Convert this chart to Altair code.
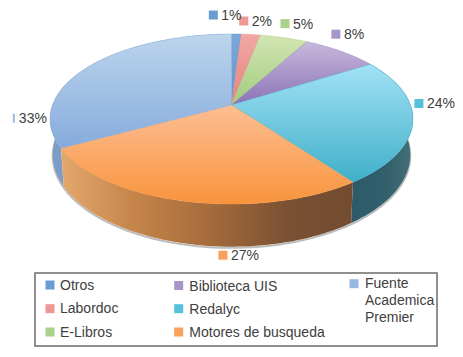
import altair as alt
import pandas as pd

CATEGORIES = ["Otros", "Labordoc", "E-Libros", "Biblioteca UIS", "Redalyc", "Motores de busqueda", "Fuente Academica Premier"]
SHARES = [1, 2, 5, 8, 24, 27, 33]
LEGEND_COLORS = ["#6a9bd1", "#ee9794", "#a9d28a", "#a797c9", "#55c1da", "#f9a05c", "#98b8e2"]

# layout / style (separate from the data)
TOP_GRAD = [("#7aa9d8", "#6296cf"), ("#f2a8a6", "#e5827f"), ("#d3e5b2", "#a0cc7e"), ("#c8b9dc", "#8a73b6"),
            ("#a2e2f5", "#3fafc9"), ("#fdbe94", "#f8943c"), ("#bcd5ec", "#86abdc")]
LABEL_DX = [-15, 1, 9, 3, 14, 46, -70.5]   # text start offset from the rim point at mid-slice
LABEL_DY = [-19, -13.5, -14, -17, -17.5, 54, 52]
LEG_SW_X = [50, 50, 50, 178.7, 178.7, 178.7, 354]
LEG_SW_Y = [285, 308.7, 332, 285.5, 308.7, 332, 283.7]
LEG_TX_X = [60, 60, 60, 189.3, 189.3, 189.3, 365]
LEG_TX_Y = [285, 308, 332, 285.7, 309, 332, 283]
LEG_BOX = {"x0": [35], "x1": [437], "y0": [273], "y1": [346]}
CX, CY, A, B, K, DEPTH, SY, SX = 231.5, 105.0, 179.0, 82.7, 0.165, 34.7, 1.08, 0.985
N = 60

df = pd.DataFrame({"cat": CATEGORIES, "share": SHARES})

def geom(base):
    return base.transform_window(
        cum="sum(share)", sort=[alt.SortField("share")]
    ).transform_calculate(
        a0="(datum.cum - datum.share) * 0.02 * PI", a1="datum.cum * 0.02 * PI"
    )

def project(ch, step_expr):
    return ch.transform_calculate(
        ang=f"datum.a0 + (datum.a1 - datum.a0) * ({step_expr}) / {N}"
    ).transform_calculate(
        den=f"1 - {K} * (-cos(datum.ang))"
    ).transform_calculate(
        rx=f"{A} * sin(datum.ang) / datum.den",
        ry=f"{B} * (-cos(datum.ang)) / datum.den",
    )

XS = alt.Scale(domain=[8, 455])
YS = alt.Scale(domain=[349, 8])
X = alt.X("px:Q", axis=None, scale=XS)
Y = alt.Y("py:Q", axis=None, scale=YS)

base = alt.Chart(df)
layers = []

# soft shadow under the lower rim
sh = project(geom(base).transform_calculate(t=f"sequence(0, {N + 1})").transform_flatten(["t"]), "datum.t")
sh = sh.transform_calculate(
    px=f"{CX} + {SX} * datum.rx", py=f"{CY} + {DEPTH} + {SY} * datum.ry + 1.2"
).transform_filter("datum.a1 > 2.5")
layers.append(sh.mark_line(stroke="#8f8f8f", strokeWidth=2, opacity=0.6).encode(
    x=X, y=Y, order="t:Q", detail="cat:N"))

WALLS = {
    "Fuente Academica Premier": [("#7b9cc4", 0), ("#8aa8d0", 1)],
    "Redalyc": [("#2d5a69", 0), ("#33606c", 0.6), ("#44707a", 1)],
    "Motores de busqueda": [("#e3a86c", 0), ("#c5854a", 0.25), ("#a66c3c", 0.5), ("#7a5032", 0.78), ("#734c31", 1)],
}
for cat, stops in WALLS.items():
    w = geom(base).transform_calculate(t=f"sequence(0, {2 * N + 2})").transform_flatten(["t"])
    w = project(w, f"datum.t <= {N} ? datum.t : {2 * N + 1} - datum.t")
    w = w.transform_calculate(
        px=f"{CX} + (datum.t <= {N} ? 1 : {SX}) * datum.rx",
        py=f"{CY} + (datum.t <= {N} ? datum.ry : {DEPTH} + {SY} * datum.ry)",
    ).transform_filter(alt.datum.cat == cat)
    grad = alt.Gradient(gradient="linear", x1=0, x2=1, y1=0, y2=0,
                        stops=[alt.GradientStop(color=c, offset=o) for c, o in stops])
    layers.append(w.mark_line(interpolate="linear-closed", fill=grad, stroke="transparent", strokeWidth=0).encode(
        x=X, y=Y, order="t:Q"))

for cat, (c0, c1) in zip(CATEGORIES, TOP_GRAD):
    s = geom(base).transform_calculate(t=f"sequence(-1, {N + 1})").transform_flatten(["t"])
    s = project(s, "max(datum.t, 0)")
    s = s.transform_calculate(
        px=f"{CX} + (datum.t < 0 ? 0 : datum.rx)",
        py=f"{CY} + (datum.t < 0 ? 0 : datum.ry)",
    ).transform_filter(alt.datum.cat == cat)
    grad = alt.Gradient(gradient="linear", x1=0, x2=0, y1=0, y2=1,
                        stops=[alt.GradientStop(color=c0, offset=0), alt.GradientStop(color=c1, offset=1)])
    layers.append(s.mark_line(interpolate="linear-closed", fill=grad, stroke=c1, strokeWidth=0.4).encode(
        x=X, y=Y, order="t:Q"))

# data labels anchored on the rim at the middle of each slice
lab = alt.Chart(pd.DataFrame({"cat": CATEGORIES, "share": SHARES, "dx": LABEL_DX, "dy": LABEL_DY}))
lab = geom(lab).transform_calculate(t=f"{N / 2}")
lab = project(lab, "datum.t")
lab = lab.transform_calculate(
    px=f"{CX} + datum.rx + datum.dx", py=f"{CY} + datum.ry + datum.dy",
    txt="datum.share + '%'",
)
color = alt.Color("cat:N", scale=alt.Scale(domain=CATEGORIES, range=LEGEND_COLORS), sort=CATEGORIES, legend=None)
layers.append(lab.transform_filter(alt.datum.share != 33).transform_calculate(sx="datum.px - 8").mark_square(
    size=81, opacity=1).encode(x=alt.X("sx:Q", axis=None, scale=XS), y=Y, color=color))
layers.append(lab.transform_filter(alt.datum.share == 33).transform_calculate(sx="datum.px - 5").mark_tick(
    orient="vertical", size=9, thickness=2, opacity=1, color="#98b8e2").encode(
    x=alt.X("sx:Q", axis=None, scale=XS), y=Y))
layers.append(lab.mark_text(align="left", baseline="middle", dy=1, font="Liberation Sans", fontSize=14, color="#404040").encode(
    x=X, y=Y, text="txt:N"))

# legend panel
box = alt.Chart(pd.DataFrame(LEG_BOX)).mark_rect(fill="white", stroke="#6b6b6b", strokeWidth=1.5).encode(
    x=alt.X("x0:Q", axis=None, scale=XS), x2="x1:Q",
    y=alt.Y("y0:Q", axis=None, scale=YS), y2="y1:Q",
)
layers.append(box)
leg = alt.Chart(pd.DataFrame({"cat": CATEGORIES, "sx": LEG_SW_X, "sy": LEG_SW_Y, "tx": LEG_TX_X, "ty": LEG_TX_Y}))
layers.append(leg.mark_square(size=81, opacity=1).encode(
    x=alt.X("sx:Q", axis=None, scale=XS), y=alt.Y("sy:Q", axis=None, scale=YS), color=color))
layers.append(leg.transform_calculate(
    txt="datum.cat == 'Fuente Academica Premier' ? split(datum.cat, ' ') : datum.cat"
).mark_text(align="left", baseline="middle", dy=1, font="Liberation Sans", fontSize=14, lineHeight=17, color="#404040").encode(
    x=alt.X("tx:Q", axis=None, scale=XS), y=alt.Y("ty:Q", axis=None, scale=YS), text="txt:N"))

chart = alt.layer(*layers).properties(
    width=447, height=341, padding=0,
    autosize=alt.AutoSizeParams(type="none"),
).configure_view(stroke=None)

chart.save("out.html", embed_options={"renderer": "svg", "actions": False})
